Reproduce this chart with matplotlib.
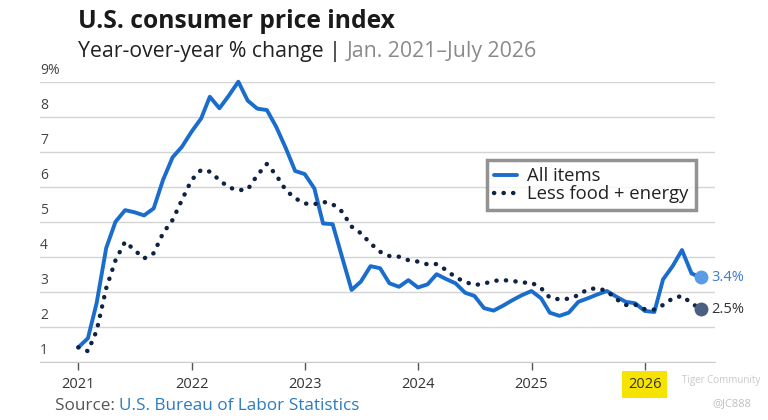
import pandas as pd
import matplotlib
matplotlib.use("Agg")
import matplotlib.pyplot as plt
import matplotlib.dates as mdates
from matplotlib.text import Annotation

plt.rcParams['font.family'] = ['Open Sans', 'DejaVu Sans']

# monthly data, Jan 2021 - July 2026
months = pd.date_range('2021-01-01', '2026-07-01', freq='MS')

all_items = [1.41, 1.67, 2.67, 4.25, 5.00, 5.33, 5.27, 5.18, 5.38, 6.19, 6.84, 7.14,
             7.57, 7.95, 8.57, 8.24, 8.60, 9.00, 8.46, 8.23, 8.19, 7.71, 7.10, 6.45,
             6.36, 5.95, 4.95, 4.93, 4.00, 3.05, 3.29, 3.73, 3.67, 3.24, 3.14, 3.33,
             3.12, 3.21, 3.50, 3.36, 3.24, 2.97, 2.88, 2.53, 2.46, 2.60, 2.76, 2.90,
             3.02, 2.81, 2.40, 2.31, 2.40, 2.71, 2.81, 2.92, 3.02, 2.86, 2.71, 2.67,
             2.45, 2.42, 3.35, 3.73, 4.19, 3.52, 3.41]

core = [1.41, 1.30, 1.88, 3.10, 3.90, 4.43, 4.19, 3.95, 4.10, 4.67, 5.05, 5.62,
        6.19, 6.48, 6.43, 6.19, 5.98, 5.90, 5.92, 6.33, 6.65, 6.33, 5.90, 5.67,
        5.52, 5.50, 5.57, 5.50, 5.29, 4.86, 4.67, 4.38, 4.14, 4.02, 4.00, 3.90,
        3.86, 3.78, 3.79, 3.62, 3.41, 3.28, 3.19, 3.23, 3.31, 3.33, 3.31, 3.26,
        3.26, 3.10, 2.83, 2.78, 2.80, 2.90, 3.07, 3.10, 3.02, 2.79, 2.62, 2.63,
        2.50, 2.49, 2.62, 2.81, 2.88, 2.67, 2.50]

y_ticks = [1, 2, 3, 4, 5, 6, 7, 8, 9]
y_labels = ['1', '2', '3', '4', '5', '6', '7', '8', '9%']
year_ticks = ['2021', '2022', '2023', '2024', '2025', '2026']

BLUE = '#1a6dcc'
NAVY = '#0e2344'

W, H = 768, 420
fig = plt.figure(figsize=(W / 100, H / 100), dpi=100)
ax = fig.add_axes([40 / W, 1 - 361.7 / H, 675 / W, 280 / H])

ax.plot(months, all_items, color=BLUE, lw=2.8, solid_joinstyle='round',
        solid_capstyle='round', clip_on=False, zorder=3, label='All items')
ax.plot(months, core, color=NAVY, lw=3.2, linestyle=(0, (0.05, 2.1)),
        dash_capstyle='round', clip_on=False, zorder=3, label='Less food + energy')

# end points
ax.plot(months[-1], all_items[-1], 'o', ms=10, color='#5a9be6', mec='none', zorder=4, clip_on=False)
ax.plot(months[-1], core[-1], 'o', ms=10, color='#4b5f80', mec='none', zorder=4, clip_on=False)
ax.annotate('3.4%', (months[-1], all_items[-1]), xytext=(7.5, 0), textcoords='offset points',
            va='center', ha='left', fontsize=10.5, color='#3b7bd0')
ax.annotate('2.5%', (months[-1], core[-1]), xytext=(7.5, 0), textcoords='offset points',
            va='center', ha='left', fontsize=10.5, color='#333333')

# x scale: Jan 2021 sits at 78.3 px, one year = 113.3 px
x0 = mdates.date2num(pd.Timestamp('2021-01-01'))
px_day = 113.3 / 365.25
ax.set_xlim(x0 - (78.3 - 40) / px_day, x0 + (715 - 78.3) / px_day)
ax.set_ylim(1, 9)

ax.set_xticks([pd.Timestamp(y + '-01-01') for y in year_ticks])
ax.set_xticklabels(year_ticks)
ax.tick_params(axis='x', length=6, width=1, color='#555555', labelsize=10.5,
               labelcolor='#333333', pad=5)
ax.set_yticks(y_ticks)
ax.tick_params(axis='y', length=0, labelleft=False)
ax.grid(axis='y', color='#d4d4d4', lw=1)
ax.set_axisbelow(True)
for s in ['top', 'right', 'left']:
    ax.spines[s].set_visible(False)
ax.spines['bottom'].set_color('#cccccc')

# y labels sit just above their gridlines
for v, lab in zip(y_ticks, y_labels):
    ax.annotate(lab, (0, v), xycoords=ax.get_yaxis_transform(), xytext=(0, 2.5),
                textcoords='offset points', ha='left', va='bottom',
                fontsize=10, color='#444444')

# highlight on the last year label
ax.get_xticklabels()[-1].set_bbox(dict(facecolor='#f6e400', edgecolor='none', pad=4))

leg = ax.legend(loc='upper left', bbox_to_anchor=(487 / W, 1 - 160 / H),
                bbox_transform=fig.transFigure, borderaxespad=0, fancybox=False,
                frameon=True, fontsize=13.3, handlelength=1.25, handletextpad=0.55,
                borderpad=0.38, labelspacing=0.0)
leg.get_frame().set_edgecolor('#777777')
leg.get_frame().set_linewidth(2.5)
for t in leg.get_texts():
    t.set_color('#222222')

# titles
fig.text(78 / W, 1 - 22 / H, 'U.S. consumer price index', fontsize=17.7, fontweight='bold',
         color='#1a1a1a', va='center', ha='left')
sub = fig.text(78 / W, 1 - 52 / H, 'Year-over-year % change | ', fontsize=15.3,
               color='#222222', va='center', ha='left')
fig.add_artist(Annotation('Jan. 2021\u2013July 2026', xy=(1, 0.5), xycoords=sub,
                          va='center', ha='left', fontsize=15.3, color='#8a8a8a'))

src = fig.text(55 / W, 1 - 406 / H, 'Source: ', fontsize=12.3, color='#555555',
               va='center', ha='left')
fig.add_artist(Annotation('U.S. Bureau of Labor Statistics', xy=(1, 0.5), xycoords=src,
                          va='center', ha='left', fontsize=12.3, color='#2b7bbf'))

# watermark
fig.text(682 / W, 1 - 380 / H, 'Tiger Community', fontsize=7, color='#c8c8c8', va='center')
fig.text(712 / W, 1 - 404 / H, '@JC888', fontsize=8, color='#c0c0c0', va='center')

fig.savefig('out.png', dpi=100)
